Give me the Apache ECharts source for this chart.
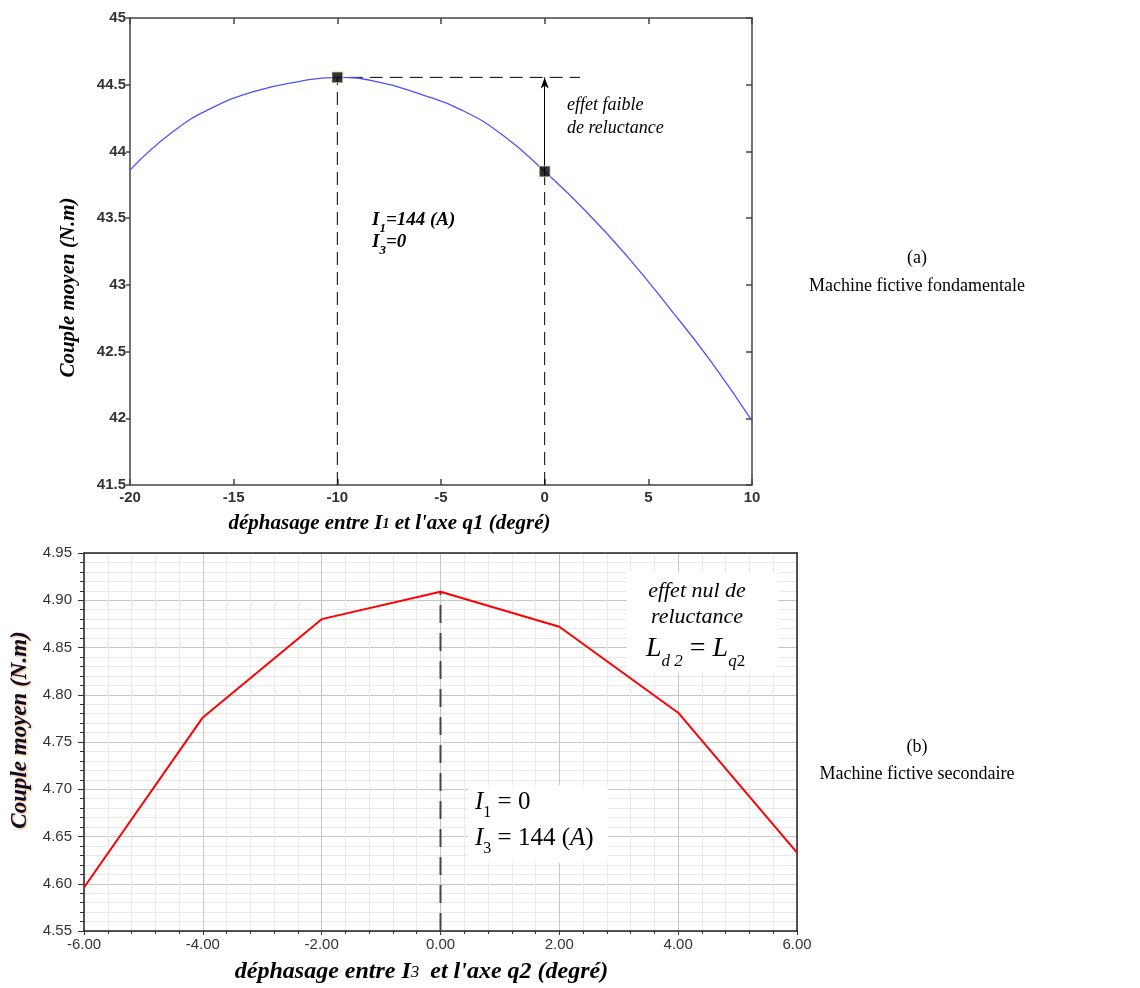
<!DOCTYPE html>
<html><head><meta charset="utf-8">
<script src="https://cdn.jsdelivr.net/npm/echarts@6/dist/echarts.min.js"></script>
<style>html,body{margin:0;padding:0;background:#fff}#c{width:1140px;height:988px}</style>
</head><body><div id="c"></div><script>
// ---- (a) Machine fictive fondamentale ----
const topAngle  = [-20, -18, -16, -14, -12, -10, -8, -6, -4, -2, 0, 2, 4, 6, 8, 10];
const topTorque = [43.86, 44.14, 44.33, 44.45, 44.52, 44.555, 44.52, 44.43, 44.31, 44.12, 43.85, 43.55, 43.21, 42.83, 42.43, 41.98];
const topMarkAngle  = [-10, 0];
const topMarkTorque = [44.555, 43.85];
const topGuideEnd = 1.7;          // end of horizontal dashed guide (deg)
const topXTicks = {min: -20, max: 10, interval: 5};
const topYTicks = {min: 41.5, max: 45, interval: 0.5};
// ---- (b) Machine fictive secondaire ----
const botAngle  = [-6, -4, -2, 0, 2, 4, 6];
const botTorque = [4.596, 4.776, 4.880, 4.909, 4.872, 4.781, 4.633];
const botXTicks = {min: -6, max: 6, interval: 2};
const botYTicks = {min: 4.55, max: 4.95, interval: 0.05};

const serif = "'Liberation Serif', 'Times New Roman', serif";
const sans = "'Liberation Sans', Arial, sans-serif";

const chart = echarts.init(document.getElementById('c'), null, {renderer: 'canvas'});

const topLabel = {fontFamily: sans, fontWeight: 'bold', fontSize: 15, color: '#333'};
const botLabel = {fontFamily: sans, fontSize: 15, color: '#333'};
const frame = {onZero: false, lineStyle: {color: '#444', width: 1.5}};
const frame2 = {onZero: false, lineStyle: {color: '#222', width: 1.5}};

const vGuide = [[topMarkAngle[0], topYTicks.min], [topMarkAngle[0], topMarkTorque[0]], [topGuideEnd, topMarkTorque[0]]];
const vGuide2 = [[topMarkAngle[1], topYTicks.min], [topMarkAngle[1], topMarkTorque[1]]];
const botPeakIdx = botTorque.indexOf(Math.max(...botTorque));
const botGuide = [[botAngle[botPeakIdx], botYTicks.min], [botAngle[botPeakIdx], botTorque[botPeakIdx]]];

function subRich(fs, sfs, weight, style) {
  return {
    m: {fontFamily: serif, fontSize: fs, fontWeight: weight, fontStyle: style, color: '#000', verticalAlign: 'bottom', padding: [0, 0, Math.round(fs * 0.25), 0]},
    n: {fontFamily: serif, fontSize: fs, fontWeight: weight, fontStyle: 'normal', color: '#000', verticalAlign: 'bottom', padding: [0, 0, Math.round(fs * 0.25), 0]},
    s: {fontFamily: serif, fontSize: sfs, fontWeight: weight, fontStyle: style, color: '#000', verticalAlign: 'bottom'},
    sn: {fontFamily: serif, fontSize: sfs, fontWeight: weight, fontStyle: 'normal', color: '#000', verticalAlign: 'bottom'}
  };
}

const option = {
  animation: false,
  backgroundColor: '#fff',
  grid: [
    {left: 130, top: 18, width: 622, height: 467},
    {left: 84, top: 553, width: 713, height: 378}
  ],
  xAxis: [
    {gridIndex: 0, type: 'value', position: 'bottom', min: topXTicks.min, max: topXTicks.max, interval: topXTicks.interval,
     axisLine: frame, axisTick: {inside: true, length: 6, lineStyle: {color: '#444', width: 1.5}},
     axisLabel: Object.assign({margin: 5}, topLabel), splitLine: {show: false},
     name: '{a|déphasage entre I}{s|1}{a| et l\'axe q1 (degré)}', nameLocation: 'middle', nameGap: 28,
     nameTextStyle: {padding: [0, 103, 0, 0],
                     rich: {a: {fontFamily: serif, fontSize: 21, fontWeight: 'bold', fontStyle: 'italic', color: '#000'},
                            s: {fontFamily: serif, fontSize: 14, fontWeight: 'bold', fontStyle: 'italic', color: '#000', verticalAlign: 'bottom', padding: [0,0,3,0]}}}},
    {gridIndex: 0, type: 'value', position: 'top', min: topXTicks.min, max: topXTicks.max, interval: topXTicks.interval,
     axisLine: frame, axisTick: {inside: true, length: 6, lineStyle: {color: '#444', width: 1.5}},
     axisLabel: {show: false}, splitLine: {show: false}},
    {gridIndex: 1, type: 'value', position: 'bottom', min: botXTicks.min, max: botXTicks.max, interval: botXTicks.interval,
     axisLine: frame2, axisTick: {length: 4, lineStyle: {color: '#333'}},
     minorTick: {show: true, splitNumber: 5, length: 3, lineStyle: {color: '#333'}},
     axisLabel: Object.assign({margin: 6, formatter: v => v.toFixed(2)}, botLabel),
     splitLine: {show: true, lineStyle: {color: '#c6c6c6', width: 1}},
     minorSplitLine: {show: true, lineStyle: {color: '#e9e9e9', width: 1}},
     name: '{a|déphasage entre I}{s|3}{a| et l\'axe q2 (degré)}', nameLocation: 'middle', nameGap: 29,
     nameTextStyle: {padding: [0, 38, 0, 0],
                     rich: {a: {fontFamily: serif, fontSize: 24, fontWeight: 'bold', fontStyle: 'italic', color: '#000'},
                            s: {fontFamily: serif, fontSize: 17, fontWeight: 'normal', fontStyle: 'italic', color: '#000', verticalAlign: 'bottom', padding: [0,5,3,0]}}}},
    {gridIndex: 1, type: 'value', position: 'top', min: botXTicks.min, max: botXTicks.max, interval: botXTicks.interval,
     axisLine: frame2, axisTick: {show: false}, axisLabel: {show: false}, splitLine: {show: false}}
  ],
  yAxis: [
    {gridIndex: 0, type: 'value', position: 'left', min: topYTicks.min, max: topYTicks.max, interval: topYTicks.interval,
     axisLine: frame, axisTick: {inside: false, length: 4, lineStyle: {color: '#444', width: 1.5}},
     axisLabel: Object.assign({margin: 4}, topLabel), splitLine: {show: false},
     name: 'Couple moyen (N.m)', nameLocation: 'middle', nameGap: 51,
     nameTextStyle: {fontFamily: serif, fontSize: 21, fontWeight: 'bold', fontStyle: 'italic', color: '#000', padding: [0, 72, 0, 0]}},
    {gridIndex: 0, type: 'value', position: 'right', min: topYTicks.min, max: topYTicks.max, interval: topYTicks.interval,
     axisLine: frame, axisTick: {inside: true, length: 6, lineStyle: {color: '#444', width: 1.5}},
     axisLabel: {show: false}, splitLine: {show: false}},
    {gridIndex: 1, type: 'value', position: 'left', min: botYTicks.min, max: botYTicks.max, interval: botYTicks.interval,
     axisLine: frame2, axisTick: {length: 6, lineStyle: {color: '#333'}},
     minorTick: {show: true, splitNumber: 5, length: 4, lineStyle: {color: '#333'}},
     axisLabel: Object.assign({margin: 12, formatter: v => v.toFixed(2)}, botLabel),
     splitLine: {show: true, lineStyle: {color: '#c6c6c6', width: 1}},
     minorSplitLine: {show: true, lineStyle: {color: '#e9e9e9', width: 1}},
     name: 'Couple moyen (N.m)', nameLocation: 'middle', nameGap: 47,
     nameTextStyle: {fontFamily: serif, fontSize: 23, fontWeight: 'bold', fontStyle: 'italic', color: '#0c0c28', padding: [0, 0, 0, 24],
                     textShadowColor: 'rgba(230,140,40,0.7)', textShadowBlur: 2, textShadowOffsetX: 1, textShadowOffsetY: 1}},
    {gridIndex: 1, type: 'value', position: 'right', min: botYTicks.min, max: botYTicks.max, interval: botYTicks.interval,
     axisLine: frame2, axisTick: {show: false}, axisLabel: {show: false}, splitLine: {show: false}}
  ],
  series: [
    {type: 'line', xAxisIndex: 0, yAxisIndex: 0, data: vGuide, symbol: 'none', silent: true,
     lineStyle: {color: '#000', width: 1, type: [13, 7]}, z: 2},
    {type: 'line', xAxisIndex: 0, yAxisIndex: 0, data: vGuide2, symbol: 'none', silent: true,
     lineStyle: {color: '#000', width: 1, type: [13, 7]}, z: 2,
     markLine: {silent: true, symbol: ['none', 'arrow'], symbolSize: [6, 11], label: {show: false},
       lineStyle: {color: '#000', width: 1, type: 'solid'},
       data: [[{coord: [topMarkAngle[1], topMarkTorque[1]]}, {coord: [topMarkAngle[1], topMarkTorque[0]]}]]}},
    {type: 'line', xAxisIndex: 0, yAxisIndex: 0, data: topAngle.map((a, i) => [a, topTorque[i]]),
     smooth: true, symbol: 'none', lineStyle: {color: '#5050ff', width: 1.3}, z: 3},
    {type: 'scatter', xAxisIndex: 0, yAxisIndex: 0, data: topMarkAngle.map((a, i) => [a, topMarkTorque[i]]),
     symbol: 'rect', symbolSize: 11, itemStyle: {color: '#000', borderColor: '#f4f0b8', borderWidth: 1}, z: 5},
    {type: 'line', xAxisIndex: 2, yAxisIndex: 2, data: botGuide, symbol: 'none', silent: true,
     lineStyle: {color: '#444', width: 2, type: [18, 10]}, z: 2},
    {type: 'line', xAxisIndex: 2, yAxisIndex: 2, data: botAngle.map((a, i) => [a, botTorque[i]]),
     symbol: 'none', lineStyle: {color: '#ff0000', width: 2}, z: 3}
  ],
  graphic: [
    // (a) annotations
    {type: 'text', left: 567, top: 96, z: 10, style: {text: 'effet faible', fontFamily: serif, fontSize: 18, fontStyle: 'italic', fill: '#000'}},
    {type: 'text', left: 567, top: 119, z: 10, style: {text: 'de reluctance', fontFamily: serif, fontSize: 18, fontStyle: 'italic', fill: '#000'}},
    {type: 'text', left: 372, top: 211, z: 10, style: {text: '{m|I}{s|1}{m|=144 (A)}', rich: subRich(19, 13, 'bold', 'italic')}},
    {type: 'text', left: 372, top: 233, z: 10, style: {text: '{m|I}{s|3}{m|=0}', rich: subRich(19, 13, 'bold', 'italic')}},
    // (b) annotation boxes
    {type: 'rect', shape: {x: 627, y: 572, width: 151, height: 101}, z: 10, style: {fill: '#fff'}},
    {type: 'text', x: 697, y: 580, z: 11, style: {text: 'effet nul de', fontFamily: serif, fontSize: 22, fontStyle: 'italic', fill: '#000', align: 'center'}},
    {type: 'text', x: 697, y: 606, z: 11, style: {text: 'reluctance', fontFamily: serif, fontSize: 22, fontStyle: 'italic', fill: '#000', align: 'center'}},
    {type: 'text', x: 646, y: 635, z: 11, style: {text: '{m|L}{s|d 2}{n| = }{m|L}{s|q}{sn|2}', rich: subRich(28, 17, 'normal', 'italic')}},
    {type: 'rect', shape: {x: 468, y: 785, width: 140, height: 78}, z: 10, style: {fill: '#fff'}},
    {type: 'text', x: 475, y: 790, z: 11, style: {text: '{m|I}{sn|1}{n| = 0}', rich: subRich(25, 16, 'normal', 'italic')}},
    {type: 'text', x: 475, y: 826, z: 11, style: {text: '{m|I}{sn|3}{n| = 144 (}{m|A}{n|)}', rich: subRich(25, 16, 'normal', 'italic')}},
    // side captions
    {type: 'text', x: 917, y: 249, z: 10, style: {text: '(a)', fontFamily: serif, fontSize: 18, fill: '#000', align: 'center'}},
    {type: 'text', x: 917, y: 277, z: 10, style: {text: 'Machine fictive fondamentale', fontFamily: serif, fontSize: 18, fill: '#000', align: 'center'}},
    {type: 'text', x: 917, y: 738, z: 10, style: {text: '(b)', fontFamily: serif, fontSize: 18, fill: '#000', align: 'center'}},
    {type: 'text', x: 917, y: 765, z: 10, style: {text: 'Machine fictive secondaire', fontFamily: serif, fontSize: 18, fill: '#000', align: 'center'}}
  ]
};
chart.setOption(option);
</script></body></html>
